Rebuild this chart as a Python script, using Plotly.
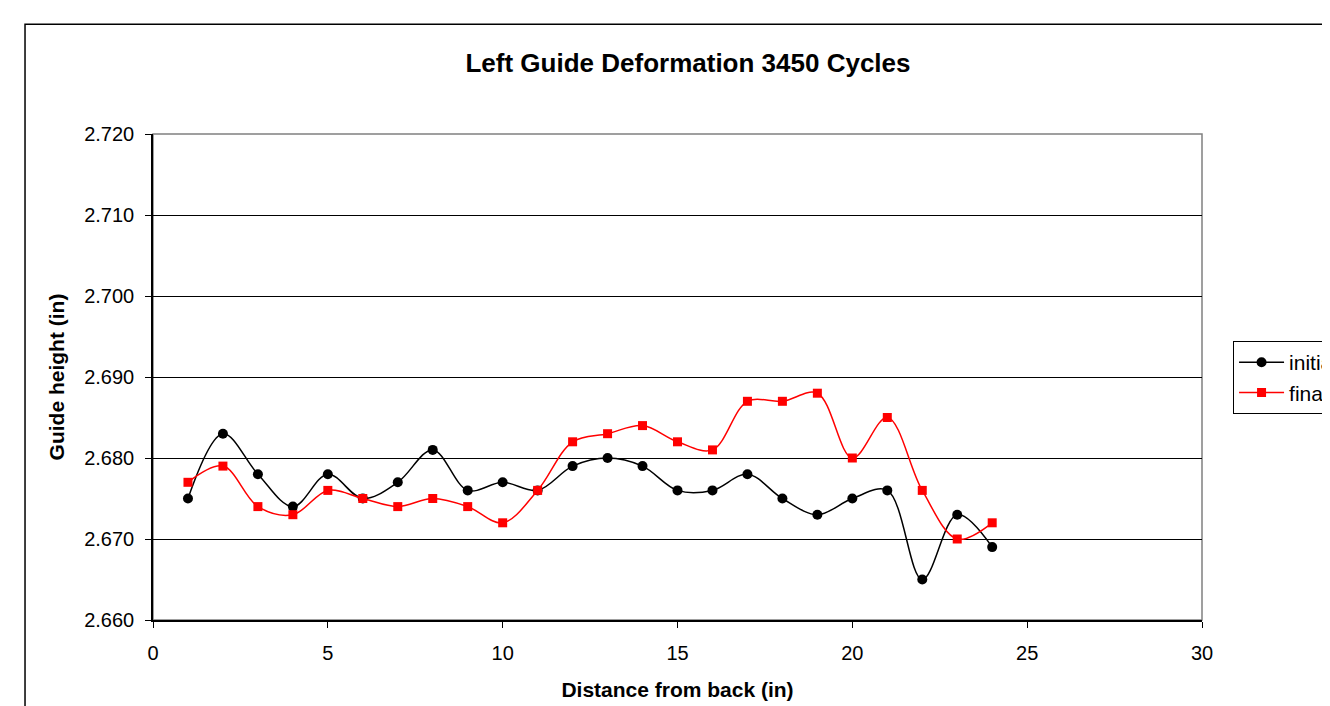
import plotly.graph_objects as go

# ---------------------------------------------------------------------------
# Data
# ---------------------------------------------------------------------------
distance = list(range(1, 25))
initial = [2.675, 2.683, 2.678, 2.674, 2.678, 2.675, 2.677, 2.681, 2.676, 2.677,
           2.676, 2.679, 2.680, 2.679, 2.676, 2.676, 2.678, 2.675, 2.673, 2.675,
           2.676, 2.665, 2.673, 2.669]
final = [2.677, 2.679, 2.674, 2.673, 2.676, 2.675, 2.674, 2.675, 2.674, 2.672,
         2.676, 2.682, 2.683, 2.684, 2.682, 2.681, 2.687, 2.687, 2.688, 2.680,
         2.685, 2.676, 2.670, 2.672]

FONT = "Liberation Sans, Arial, sans-serif"

# page body adds an 8px offset, so the figure is sized 8px smaller
W, H = 1322, 698

fig = go.Figure()
fig.add_trace(go.Scatter(
    x=distance, y=initial, name="initial", mode="lines+markers",
    line=dict(color="black", width=1.5, shape="spline", smoothing=1.0),
    marker=dict(symbol="circle", size=10, color="black"),
))
fig.add_trace(go.Scatter(
    x=distance, y=final, name="final", mode="lines+markers",
    line=dict(color="#ff0000", width=1.5, shape="spline", smoothing=1.0),
    marker=dict(symbol="square", size=9, color="#ff0000"),
))

# plot-area border (grey) and outer chart frame (black)
fig.add_shape(type="rect", xref="paper", yref="paper", x0=0, y0=0, x1=1, y1=1,
              line=dict(color="#808080", width=1.5), layer="below")
fig.add_shape(type="rect", xref="paper", yref="paper", x0=-0.122, y0=-0.3,
              x1=1.2, y1=1.226, line=dict(color="black", width=1.5))

fig.update_layout(
    width=W, height=H,
    margin=dict(l=145, r=128, t=126, b=86, autoexpand=False),
    paper_bgcolor="white", plot_bgcolor="white",
    font=dict(family=FONT, size=20, color="black"),
    title=dict(text="<b>Left Guide Deformation 3450 Cycles</b>",
               x=680 / W, xanchor="center", y=1 - 55 / H, yanchor="middle",
               font=dict(size=26)),
    legend=dict(x=1.0296, y=0.574, xanchor="left", yanchor="top",
                bordercolor="black", borderwidth=1, bgcolor="white",
                font=dict(size=21), itemwidth=45),
    showlegend=True,
)
fig.update_xaxes(
    range=[0, 30], dtick=5, tick0=0, showgrid=False, zeroline=False,
    showline=True, linecolor="black", linewidth=1.5,
    ticks="outside", ticklen=6, tickcolor="black", ticklabelstandoff=8,
    title=dict(text="<b>Distance from back (in)</b>", font=dict(size=21), standoff=20),
)
fig.update_yaxes(
    range=[2.66, 2.72], dtick=0.01, tick0=2.66, tickformat=".3f",
    showgrid=True, gridcolor="black", gridwidth=1.2, zeroline=False,
    showline=True, linecolor="black", linewidth=1.5,
    ticks="outside", ticklen=6, tickcolor="black", ticklabelstandoff=7,
    title=dict(text="<b>Guide height (in)</b>", font=dict(size=21), standoff=14),
)

fig.write_html("out.html")
